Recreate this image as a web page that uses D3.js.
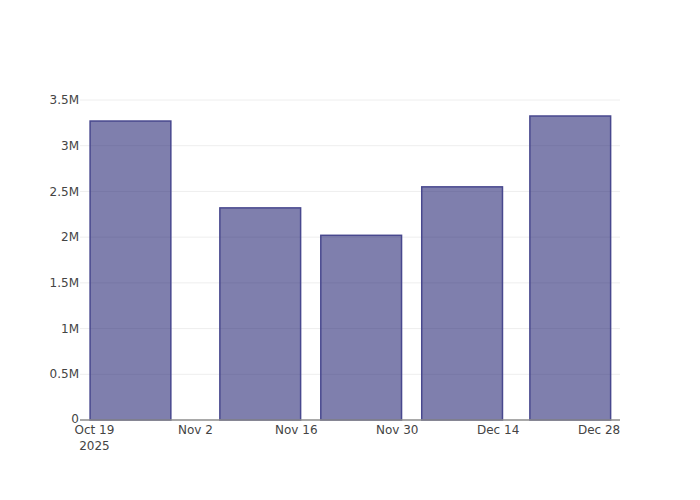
<!DOCTYPE html>
<html>
<head>
<meta charset="utf-8">
<script src="https://d3js.org/d3.v7.min.js"></script>
<style>
  body { margin: 0; background: #fff; }
  text { font-family: "DejaVu Sans", sans-serif; font-size: 12px; fill: #444; }
</style>
</head>
<body>
<div id="chart"></div>
<script>
// bar dates and values
var dates = ["2025-10-24", "2025-11-11", "2025-11-25", "2025-12-09", "2025-12-24"];
var values = [3270000, 2320000, 2020000, 2550000, 3325000];
var yTicks = [0, 500000, 1000000, 1500000, 2000000, 2500000, 3000000, 3500000];
var yTickLabels = ["0", "0.5M", "1M", "1.5M", "2M", "2.5M", "3M", "3.5M"];
var xTicks = ["2025-10-19", "2025-11-02", "2025-11-16", "2025-11-30", "2025-12-14", "2025-12-28"];

var W = 700, H = 500;
var margin = { top: 100, right: 80, bottom: 80, left: 80 };
var width = W - margin.left - margin.right,
    height = H - margin.top - margin.bottom;

var parse = d3.utcParse("%Y-%m-%d");
var DAY = 86400000;
var bars = dates.map((d, i) => ({ date: parse(d), value: values[i] }));

// bar width = 0.8 of the smallest gap
var minGap = d3.min(d3.pairs(bars), p => p[1].date - p[0].date);
var barW = minGap * 0.8;

var x = d3.scaleUtc()
    .domain([new Date(+bars[0].date - barW / 2 - 1.4 * DAY),
             new Date(+bars[bars.length - 1].date + barW / 2 + 1.3 * DAY)])
    .range([0, width]);
var y = d3.scaleLinear().domain([0, 3500000]).range([height, 0]);

var svg = d3.select("#chart").append("svg")
    .attr("width", W).attr("height", H);
var g = svg.append("g")
    .attr("transform", "translate(" + margin.left + "," + margin.top + ")");

// gridlines
g.selectAll(".grid")
    .data(yTicks.slice(1))
    .enter().append("line")
    .attr("x1", 0).attr("x2", width)
    .attr("y1", d => y(d)).attr("y2", d => y(d))
    .attr("stroke", "#eee").attr("stroke-width", 1);

// bars
g.selectAll("rect")
    .data(bars)
    .enter().append("rect")
    .attr("x", d => x(new Date(+d.date - barW / 2)))
    .attr("width", d => x(new Date(+d.date + barW / 2)) - x(new Date(+d.date - barW / 2)))
    .attr("y", d => y(d.value))
    .attr("height", d => height - y(d.value))
    .attr("fill", "rgba(30,30,110,0.57)")
    .attr("stroke", "rgb(72,72,142)")
    .attr("stroke-width", 1.5);

// axis line
g.append("line")
    .attr("x1", 0).attr("x2", width)
    .attr("y1", height).attr("y2", height)
    .attr("stroke", "#8c8c8c").attr("stroke-width", 1.5);

// y labels
g.selectAll(".ylab")
    .data(yTicks)
    .enter().append("text")
    .attr("x", -1)
    .attr("y", d => y(d) - (d === 0 ? 1 : 0))
    .attr("dy", "0.35em")
    .attr("text-anchor", "end")
    .text((d, i) => yTickLabels[i]);

// x labels
var fmt = d3.utcFormat("%b %-d");
g.selectAll(".xlab")
    .data(xTicks.map(parse))
    .enter().append("text")
    .attr("x", d => x(d))
    .attr("y", height + 14)
    .attr("text-anchor", "middle")
    .text(d => fmt(d));
g.append("text")
    .attr("x", x(parse(xTicks[0])))
    .attr("y", height + 30)
    .attr("text-anchor", "middle")
    .text("2025");
</script>
</body>
</html>
